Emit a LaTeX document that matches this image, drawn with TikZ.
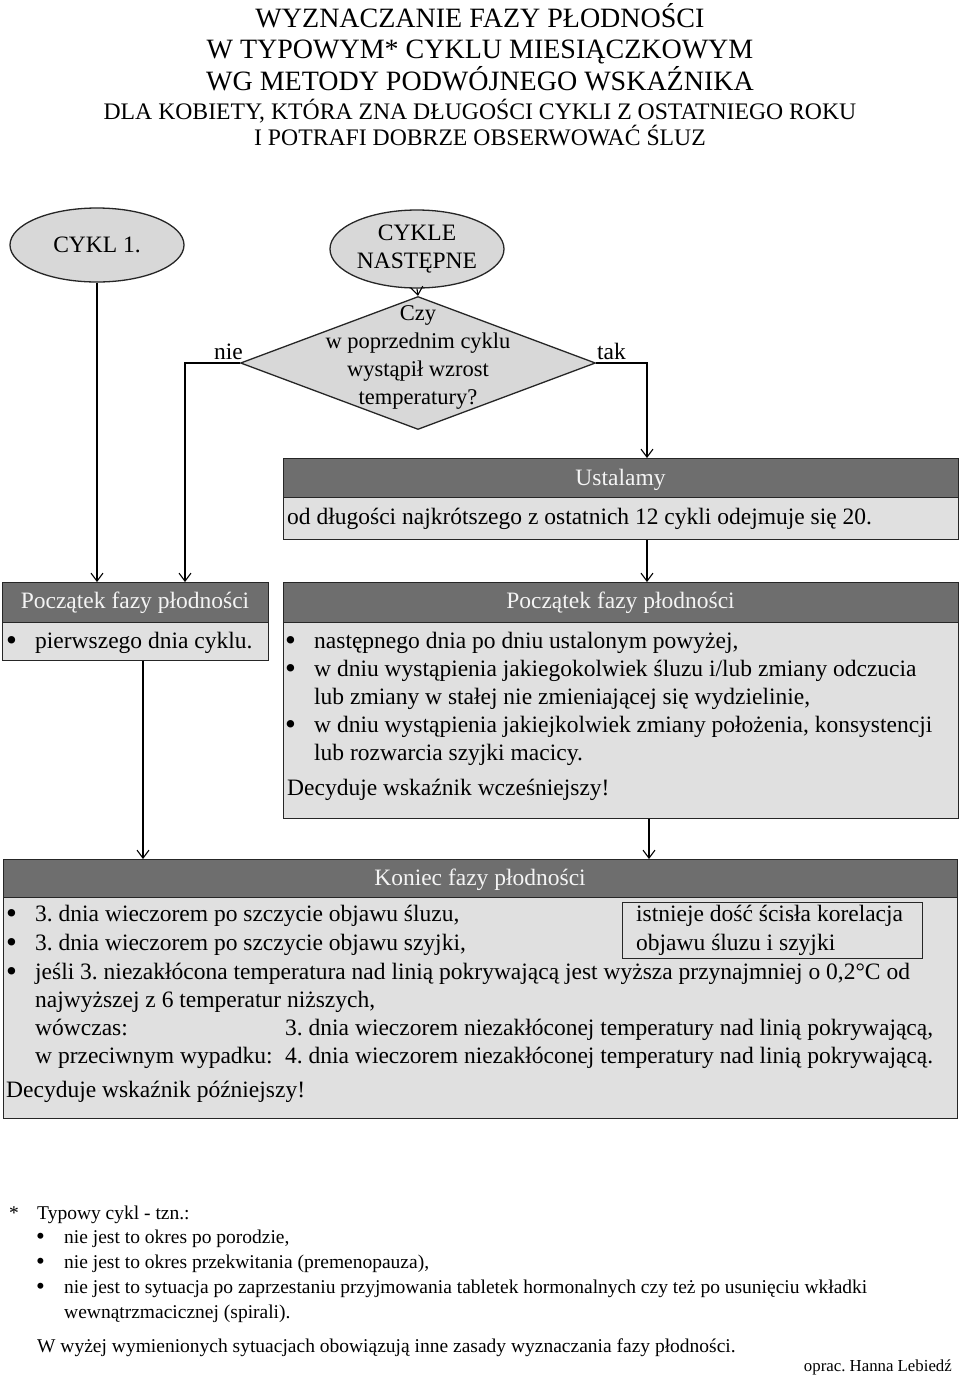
\documentclass[tikz,border=0pt]{standalone}
\usepackage{fontspec}
\setmainfont{Liberation Serif}
\usetikzlibrary{shapes.geometric,arrows.meta}
\definecolor{hdr}{RGB}{110,110,110}
\definecolor{bodyc}{RGB}{224,224,224}
\definecolor{shapec}{RGB}{216,216,216}
\definecolor{hdrtext}{RGB}{244,244,244}
\newcommand\fBody{\fontsize{23.5}{28}\selectfont}
\newcommand\fBul{\fontsize{31}{28}\selectfont}
\newcommand\fDia{\fontsize{22.5}{28}\selectfont}
\newcommand\fTitleA{\fontsize{28}{31}\selectfont}
\newcommand\fTitleB{\fontsize{23.7}{28}\selectfont}
\newcommand\fFoot{\fontsize{19.5}{25}\selectfont}
\newcommand\fFootBul{\fontsize{25}{25}\selectfont}
\newcommand\fSign{\fontsize{16.8}{20}\selectfont}
\begin{document}
\frenchspacing
\begin{tikzpicture}[x=1pt,y=-1pt,
  hband/.style={draw=black!85, line width=1.3pt, fill=hdr, rectangle, inner sep=0, anchor=north west},
  bband/.style={draw=black!85, line width=1.3pt, fill=bodyc, rectangle, inner sep=0, anchor=north west},
  htext/.style={text=hdrtext, font=\fBody, inner sep=0, anchor=base},
  btext/.style={font=\fBody, inner sep=0, anchor=base west},
  bul/.style={font=\fBul, inner sep=0, anchor=base west, yshift=-2pt},
  ttext/.style={inner sep=0, anchor=base},
  ftext/.style={font=\fFoot, inner sep=0, anchor=base west},
  fbul/.style={font=\fFootBul, inner sep=0, anchor=base west, yshift=-1.5pt},
  conn/.style={line width=1.1pt, -{Straight Barb[length=8pt,width=12pt]}},
  oval/.style={ellipse, draw=black!85, line width=1.3pt, fill=shapec, inner sep=0, font=\fBody, align=center},
]
\useasboundingbox (0,0) rectangle (960,1377);
\fill[white] (0,0) rectangle (960,1377);

% title
\node[ttext, font=\fTitleA] (t1) at (480,27) {WYZNACZANIE FAZY PŁODNOŚCI};
\node[ttext, font=\fTitleA] (t2) at (480,58) {W TYPOWYM* CYKLU MIESIĄCZKOWYM};
\node[ttext, font=\fTitleA] (t3) at (480,90) {WG METODY PODWÓJNEGO WSKAŹNIKA};
\node[ttext, font=\fTitleB] (t4) at (480,119) {DLA KOBIETY, KTÓRA ZNA DŁUGOŚCI CYKLI Z OSTATNIEGO ROKU};
\node[ttext, font=\fTitleB] (t5) at (480,145) {I POTRAFI DOBRZE OBSERWOWAĆ ŚLUZ};

% start ovals and decision
\node[oval, minimum width=174pt, minimum height=74pt] (c1) at (97,245) {CYKL 1.};
\node[oval, minimum width=174pt, minimum height=78pt] (cn) at (417,249) {CYKLE\\NASTĘPNE};
\node[diamond, draw=black!85, fill=shapec, line width=1.3pt, minimum width=355pt, minimum height=133pt, inner sep=0] (dm) at (418,363) {};
\node[font=\fDia, align=center, inner sep=0] (dmt) at (418,357) {Czy\\w poprzednim cyklu\\wystąpił wzrost\\temperatury?};
\node[btext, anchor=base east] (nie) at (243,359) {nie};
\node[btext] (tak) at (597,359) {tak};

% Ustalamy box
\node[hband, minimum width=675pt, minimum height=39pt] (ush) at (283,458) {};
\node[bband, minimum width=675pt, minimum height=42pt] (usb) at (283,497) {};
\node[htext] (ust) at (620.5,485) {Ustalamy};
\node[btext] (usbt) at (287,524) {od długości najkrótszego z ostatnich 12 cykli odejmuje się 20.};

% left box
\node[hband, minimum width=266pt, minimum height=40pt] (lbh) at (2,582) {};
\node[bband, minimum width=266pt, minimum height=38pt] (lbb) at (2,622) {};
\node[htext] (lbht) at (135,608) {Początek fazy płodności};
\node[bul] (lbu) at (6,648) {•};
\node[btext] (lbt) at (35,648) {pierwszego dnia cyklu.};

% right box
\node[hband, minimum width=675pt, minimum height=40pt] (rbh) at (283,582) {};
\node[bband, minimum width=675pt, minimum height=196pt] (rbb) at (283,622) {};
\node[htext] (rbht) at (620.5,608) {Początek fazy płodności};
\node[bul] (rbu1) at (285,648) {•};
\node[btext] (rbt1) at (314,648) {następnego dnia po dniu ustalonym powyżej,};
\node[bul] (rbu2) at (285,676) {•};
\node[btext] (rbt2) at (314,676) {w dniu wystąpienia jakiegokolwiek śluzu i/lub zmiany odczucia};
\node[btext] (rbt3) at (314,704) {lub zmiany w stałej nie zmieniającej się wydzielinie,};
\node[bul] (rbu4) at (285,732) {•};
\node[btext] (rbt4) at (314,732) {w dniu wystąpienia jakiejkolwiek zmiany położenia, konsystencji};
\node[btext] (rbt5) at (314,760) {lub rozwarcia szyjki macicy.};
\node[btext] (rbt6) at (287,795) {Decyduje wskaźnik wcześniejszy!};

% bottom box
\node[hband, minimum width=954pt, minimum height=38pt] (bbh) at (3,859) {};
\node[bband, minimum width=954pt, minimum height=221pt] (bbb) at (3,897) {};
\node[htext] (bbht) at (480,885) {Koniec fazy płodności};
\node[draw=black!85, line width=1.3pt, fill=bodyc, rectangle, inner sep=0, anchor=north west, minimum width=300pt, minimum height=56pt] (corr) at (622,902) {};
\node[bul] (bbu1) at (6,921) {•};
\node[btext] (bbt1) at (35,921) {3. dnia wieczorem po szczycie objawu śluzu,};
\node[bul] (bbu2) at (6,950) {•};
\node[btext] (bbt2) at (35,950) {3. dnia wieczorem po szczycie objawu szyjki,};
\node[btext] (corr1) at (636,921) {istnieje dość ścisła korelacja};
\node[btext] (corr2) at (636,950) {objawu śluzu i szyjki};
\node[bul] (bbu3) at (6,979) {•};
\node[btext] (bbt3) at (35,979) {jeśli 3. niezakłócona temperatura nad linią pokrywającą jest wyższa przynajmniej o 0,2°C od};
\node[btext] (bbt4) at (35,1007) {najwyższej z 6 temperatur niższych,};
\node[btext] (bbt5) at (35,1035) {wówczas:};
\node[btext] (bbt6) at (285,1035) {3. dnia wieczorem niezakłóconej temperatury nad linią pokrywającą,};
\node[btext] (bbt7) at (35,1063) {w przeciwnym wypadku:};
\node[btext] (bbt8) at (285,1063) {4. dnia wieczorem niezakłóconej temperatury nad linią pokrywającą.};
\node[btext] (bbt9) at (6,1097) {Decyduje wskaźnik późniejszy!};

% connectors
\draw[conn] (cn.south) -- (dm.north);
\draw[conn] (c1.south) -- (c1.south |- lbh.north);
\draw[conn] (dm.west) -| ([xshift=183pt]lbh.north west);
\draw[conn] (dm.east) -| ([xshift=364pt]ush.north west);
\draw[conn] ([xshift=364pt]usb.south west) -- ([xshift=364pt]rbh.north west);
\draw[conn] ([xshift=141pt]lbb.south west) -- ([xshift=140pt]bbh.north west);
\draw[conn] ([xshift=366pt]rbb.south west) -- ([xshift=646pt]bbh.north west);

% footnote
\node[ftext] (fs) at (9,1219) {*};
\node[ftext] (f0) at (37,1219) {Typowy cykl - tzn.:};
\node[fbul] (fb1) at (36,1243) {•};
\node[ftext] (f1) at (64,1243) {nie jest to okres po porodzie,};
\node[fbul] (fb2) at (36,1268) {•};
\node[ftext] (f2) at (64,1268) {nie jest to okres przekwitania (premenopauza),};
\node[fbul] (fb3) at (36,1293) {•};
\node[ftext] (f3) at (64,1293) {nie jest to sytuacja po zaprzestaniu przyjmowania tabletek hormonalnych czy też po usunięciu wkładki};
\node[ftext] (f4) at (64,1318) {wewnątrzmacicznej (spirali).};
\node[ftext] (f5) at (37,1352) {W wyżej wymienionych sytuacjach obowiązują inne zasady wyznaczania fazy płodności.};
\node[font=\fSign, inner sep=0, anchor=base east] (sign) at (952,1371) {oprac. Hanna Lebiedź};
\end{tikzpicture}
\end{document}
